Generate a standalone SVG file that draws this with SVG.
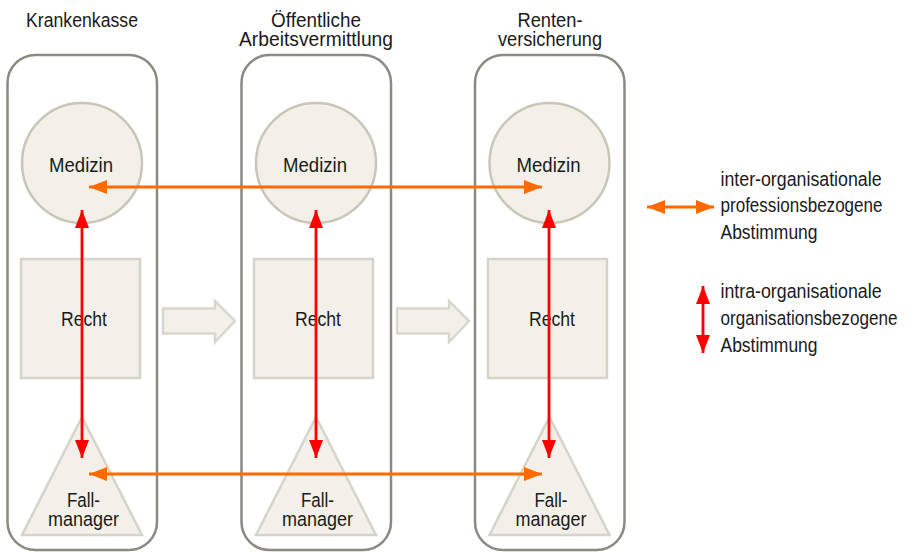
<svg xmlns="http://www.w3.org/2000/svg" width="910" height="552" viewBox="0 0 910 552">
<defs>
<style>
text{font-family:"Liberation Sans",Arial,sans-serif;fill:#1a1a1a;font-size:20.5px}
.c{text-anchor:middle}
.org{fill:none;stroke:#8c8a80;stroke-width:2.5}
.circ{fill:#f2f0e8;stroke:#c9c6b8;stroke-width:2.5}
.sq{fill:#f2f0e8;stroke:#d5d3ca;stroke-width:2.5}
.tri{fill:#f2f0e8;stroke:#d5d3ca;stroke-width:2.5}
.flow{fill:#f2f0e8;stroke:#d8d6cd;stroke-width:2.5}
.inter{stroke:#ff6a00;stroke-width:2.8;fill:none}
.intra{stroke:#ff0000;stroke-width:2.8;fill:none}
</style>
<marker id="ho" markerWidth="18" markerHeight="14" refX="18" refY="7" orient="auto-start-reverse" markerUnits="userSpaceOnUse"><path d="M0,0 L18,7 L0,14 Z" fill="#ff6a00"/></marker>
<marker id="hr" markerWidth="18" markerHeight="14" refX="18" refY="7" orient="auto-start-reverse" markerUnits="userSpaceOnUse"><path d="M0,0 L18,7 L0,14 Z" fill="#ff0000"/></marker>
</defs>
<rect width="910" height="552" fill="#ffffff"/>

<g id="org-krankenkasse">
<text class="c" transform="translate(82,27) scale(0.84,1)" textLength="133.3" lengthAdjust="spacingAndGlyphs">Krankenkasse</text>
<rect class="org" x="7.5" y="55" width="149.5" height="495" rx="28"/>
</g>
<g id="org-arbeitsvermittlung">
<text class="c" transform="translate(316,27) scale(0.84,1)" textLength="107.1" lengthAdjust="spacingAndGlyphs">Öffentliche</text>
<text class="c" transform="translate(316,46) scale(0.84,1)" textLength="183.3" lengthAdjust="spacingAndGlyphs">Arbeitsvermittlung</text>
<rect class="org" x="241.5" y="55" width="149.5" height="495" rx="28"/>
</g>
<g id="org-rentenversicherung">
<text class="c" transform="translate(550,27) scale(0.84,1)" textLength="77.4" lengthAdjust="spacingAndGlyphs">Renten-</text>
<text class="c" transform="translate(550,46) scale(0.84,1)" textLength="123.8" lengthAdjust="spacingAndGlyphs">versicherung</text>
<rect class="org" x="475" y="55" width="149.5" height="495" rx="28"/>
</g>

<g id="medizin-1"><circle class="circ" cx="82" cy="163" r="60"/><text class="c" transform="translate(81,172) scale(0.84,1)" textLength="76.2" lengthAdjust="spacingAndGlyphs">Medizin</text></g>
<g id="medizin-2"><circle class="circ" cx="316" cy="163" r="60"/><text class="c" transform="translate(315,172) scale(0.84,1)" textLength="76.2" lengthAdjust="spacingAndGlyphs">Medizin</text></g>
<g id="medizin-3"><circle class="circ" cx="549.5" cy="163" r="60"/><text class="c" transform="translate(548.5,172) scale(0.84,1)" textLength="76.2" lengthAdjust="spacingAndGlyphs">Medizin</text></g>

<g id="recht-1"><rect class="sq" x="21" y="259" width="119" height="119"/><text class="c" transform="translate(84,326) scale(0.84,1)" textLength="54.8" lengthAdjust="spacingAndGlyphs">Recht</text></g>
<g id="recht-2"><rect class="sq" x="254" y="259" width="119" height="119"/><text class="c" transform="translate(318,326) scale(0.84,1)" textLength="54.8" lengthAdjust="spacingAndGlyphs">Recht</text></g>
<g id="recht-3"><rect class="sq" x="488" y="259" width="119" height="119"/><text class="c" transform="translate(552,326) scale(0.84,1)" textLength="54.8" lengthAdjust="spacingAndGlyphs">Recht</text></g>

<g id="fallmanager-1"><path class="tri" d="M82,417 L142,535 L22,535 Z"/><text class="c" transform="translate(83.5,507) scale(0.84,1)" textLength="39.3" lengthAdjust="spacingAndGlyphs">Fall-</text><text class="c" transform="translate(83.5,526) scale(0.84,1)" textLength="84.5" lengthAdjust="spacingAndGlyphs">manager</text></g>
<g id="fallmanager-2"><path class="tri" d="M316,417 L376,535 L256,535 Z"/><text class="c" transform="translate(317.5,507) scale(0.84,1)" textLength="39.3" lengthAdjust="spacingAndGlyphs">Fall-</text><text class="c" transform="translate(317.5,526) scale(0.84,1)" textLength="84.5" lengthAdjust="spacingAndGlyphs">manager</text></g>
<g id="fallmanager-3"><path class="tri" d="M549.5,417 L609.5,535 L489.5,535 Z"/><text class="c" transform="translate(551,507) scale(0.84,1)" textLength="39.3" lengthAdjust="spacingAndGlyphs">Fall-</text><text class="c" transform="translate(551,526) scale(0.84,1)" textLength="84.5" lengthAdjust="spacingAndGlyphs">manager</text></g>

<g id="flow-arrows">
<path class="flow" d="M163,308.5 L215,308.5 L215,301 L235,321 L215,342 L215,333.5 L163,333.5 Z"/>
<path class="flow" d="M397,308.5 L449,308.5 L449,301 L469,321 L449,342 L449,333.5 L397,333.5 Z"/>
</g>

<g id="connectors">
<line class="intra" x1="82" y1="210" x2="82" y2="458" marker-start="url(#hr)" marker-end="url(#hr)"/>
<line class="intra" x1="316" y1="210" x2="316" y2="458" marker-start="url(#hr)" marker-end="url(#hr)"/>
<line class="intra" x1="549" y1="210" x2="549" y2="458" marker-start="url(#hr)" marker-end="url(#hr)"/>
<line class="inter" x1="89" y1="187" x2="542" y2="187" marker-start="url(#ho)" marker-end="url(#ho)"/>
<line class="inter" x1="89" y1="474" x2="542" y2="474" marker-start="url(#ho)" marker-end="url(#ho)"/>
</g>

<g id="legend">
<line class="inter" x1="647" y1="207" x2="714" y2="207" marker-start="url(#ho)" marker-end="url(#ho)"/>
<text transform="translate(720.5,186) scale(0.84,1)" textLength="191.7" lengthAdjust="spacingAndGlyphs">inter-organisationale</text>
<text transform="translate(720.5,212) scale(0.84,1)" textLength="192.9" lengthAdjust="spacingAndGlyphs">professionsbezogene</text>
<text transform="translate(720.5,239) scale(0.84,1)" textLength="115.5" lengthAdjust="spacingAndGlyphs">Abstimmung</text>
<line class="intra" x1="703" y1="286" x2="703" y2="353" marker-start="url(#hr)" marker-end="url(#hr)"/>
<text transform="translate(720.5,298) scale(0.84,1)" textLength="191.7" lengthAdjust="spacingAndGlyphs">intra-organisationale</text>
<text transform="translate(720.5,325) scale(0.84,1)" textLength="210.7" lengthAdjust="spacingAndGlyphs">organisationsbezogene</text>
<text transform="translate(720.5,352) scale(0.84,1)" textLength="115.5" lengthAdjust="spacingAndGlyphs">Abstimmung</text>
</g>
</svg>
